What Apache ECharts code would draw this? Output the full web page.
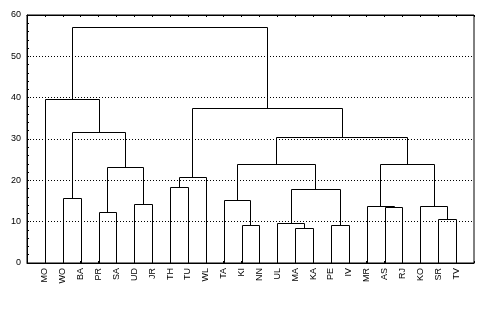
<!DOCTYPE html>
<html>
<head>
<meta charset="utf-8">
<script src="https://cdn.jsdelivr.net/npm/echarts@6/dist/echarts.min.js"></script>
<style>html,body{margin:0;padding:0;background:#fff}#c{width:489px;height:310px}</style>
</head>
<body>
<div id="c"></div>
<script>
// Leaves (order along the x axis)
const leaves = ['MO','WO','BA','PR','SA','UD','JR','TH','TU','WL','TA','KI','NN','UL','MA','KA','PE','IV','MR','AS','RJ','KO','SR','TV'];
// Merges: node ids < 24 are leaves; merge k creates node 24+k
const mergeA = [14, 11, 16, 13, 22, 3, 19, 18, 21, 5, 10, 1, 27, 7, 37, 29, 34, 31, 40, 35, 38, 0, 45];
const mergeB = [15, 12, 17, 24, 23, 4, 20, 30, 28, 6, 25, 2, 26, 8, 9, 33, 36, 32, 41, 39, 42, 43, 44];
const mergeH = [8.45, 9.2, 9.2, 9.7, 10.6, 12.3, 13.5, 13.8, 13.8, 14.2, 15.2, 15.8, 17.9, 18.3, 20.8, 23.2, 23.9, 23.9, 30.6, 31.6, 37.4, 39.6, 57.0];
const yTicks = [0, 10, 20, 30, 40, 50, 60];

const n = leaves.length;
const nodeX = leaves.map((_, i) => i);
const nodeH = leaves.map(() => 0);
for (let k = 0; k < mergeA.length; k++) {
  nodeX.push((nodeX[mergeA[k]] + nodeX[mergeB[k]]) / 2);
  nodeH.push(mergeH[k]);
}
const linkData = mergeA.map((a, k) => [nodeX[a], nodeH[a], nodeX[mergeB[k]], nodeH[mergeB[k]], mergeH[k]]);

const snap = v => Math.round(v) + 0.5;
const font = 'Liberation Sans';
const chart = echarts.init(document.getElementById('c'), null, {renderer: 'canvas'});
chart.setOption({
  animation: false,
  backgroundColor: '#fff',
  grid: {left: 27, right: 15, top: 15, bottom: 47, show: true, borderColor: '#000', borderWidth: 1},
  xAxis: [{
    type: 'value', min: -1, max: n, interval: 1, position: 'bottom',
    axisLine: {show: true, onZero: false, lineStyle: {color: '#000', width: 1}},
    axisTick: {show: true, inside: true, length: 2, lineStyle: {color: '#000'}},
    splitLine: {show: false},
    axisLabel: {
      rotate: 90, margin: 5, color: '#000', fontSize: 9, fontFamily: font,
      formatter: v => (v >= 0 && v < n && Number.isInteger(v)) ? leaves[v] : ''
    }
  }, {
    type: 'value', min: -1, max: n, interval: 1, position: 'top',
    axisLine: {show: true, onZero: false, lineStyle: {color: '#000', width: 1}},
    axisTick: {show: true, inside: true, length: 2, lineStyle: {color: '#000'}},
    splitLine: {show: false},
    axisLabel: {show: false}
  }],
  yAxis: {
    type: 'value', min: yTicks[0], max: yTicks[yTicks.length - 1], interval: 10,
    axisLine: {show: true, onZero: false, lineStyle: {color: '#000', width: 1}},
    axisTick: {show: true, inside: true, length: 2, lineStyle: {color: '#000'}},
    minorTick: {show: true, splitNumber: 5, length: 2, lineStyle: {color: '#000'}},
    splitLine: {show: true, lineStyle: {color: '#000', type: [1, 2], width: 1}},
    axisLabel: {color: '#000', fontSize: 9, fontFamily: font, margin: 6}
  },
  series: [{
    type: 'custom',
    xAxisIndex: 0,
    silent: true,
    data: linkData,
    encode: {x: [0, 2], y: [1, 3, 4]},
    renderItem: function (params, api) {
      const p1 = api.coord([api.value(0), api.value(1)]);
      const p2 = api.coord([api.value(2), api.value(3)]);
      const ph = api.coord([api.value(0), api.value(4)]);
      const x1 = snap(p1[0]), x2 = snap(p2[0]);
      const yh = snap(ph[1]);
      return {
        type: 'polyline',
        shape: {points: [[x1, snap(p1[1])], [x1, yh], [x2, yh], [x2, snap(p2[1])]]},
        style: {stroke: '#000', lineWidth: 1, fill: null}
      };
    }
  }]
});
</script>
</body>
</html>
